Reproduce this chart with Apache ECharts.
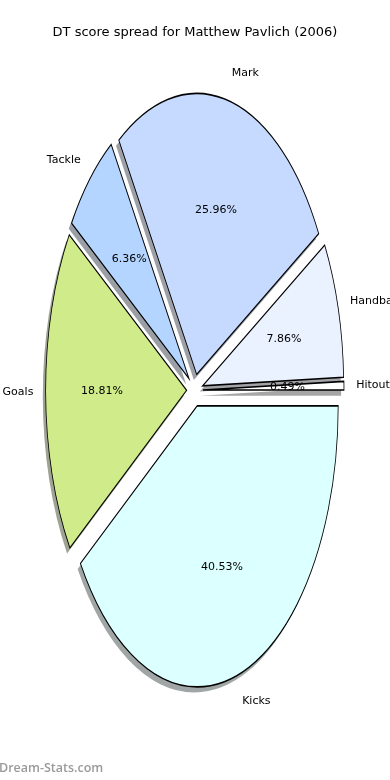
<!DOCTYPE html>
<html><head><meta charset="utf-8">
<script src="https://cdn.jsdelivr.net/npm/echarts@6/dist/echarts.min.js"></script>
<style>html,body{margin:0;padding:0;background:#fff}#c{width:390px;height:780px}</style>
</head><body><div id="c"></div>
<script>
const categories = ['Hitout', 'Handball', 'Mark', 'Tackle', 'Goals', 'Kicks'];
const values = [0.49, 7.86, 25.96, 6.36, 18.81, 40.53];
const pctLabels = ['0.49%', '7.86%', '25.96%', '6.36%', '18.81%', '40.53%'];
const colors = ['#FFFFFF', '#EAF1FF', '#C6DAFF', '#B4D5FF', '#D0EB8A', '#DCFFFF'];

const CX = 194.8, CY = 390.3, RX = 141, RY = 281;
const EXPLODE = 0.058, SHX = -0.02, SHY = -0.02;
const LABEL_DX = 1.087, LABEL_DY = 1.1, PCT_D = 0.6;
const FONT = '"DejaVu Sans", sans-serif';

const total = values.reduce((a, b) => a + b, 0);
const starts = [];
let acc = 0;
values.forEach(v => { starts.push(acc / total * 2 * Math.PI); acc += v; });

function shade(hex) {
  const n = parseInt(hex.slice(1), 16);
  const r = Math.round(((n >> 16) & 255) * 0.3), g = Math.round(((n >> 8) & 255) * 0.3), b = Math.round((n & 255) * 0.3);
  return 'rgba(' + r + ',' + g + ',' + b + ',0.5)';
}

function renderItem(params, api) {
  const i = params.dataIndex;
  const v = api.value(0);
  const a0 = starts[i], a1 = a0 + v / total * 2 * Math.PI, mid = (a0 + a1) / 2;
  const c = Math.cos(mid), s = Math.sin(mid);
  const ox = CX + EXPLODE * RX * c, oy = CY - EXPLODE * RY * s;
  const sector = (x, y, style, z2) => ({
    type: 'sector', x: x, y: y, scaleX: 1, scaleY: RY / RX, z2: z2,
    shape: { cx: 0, cy: 0, r: RX, r0: 0, startAngle: -a1, endAngle: -a0, clockwise: true },
    style: style
  });
  return {
    type: 'group',
    children: [
      sector(ox + SHX * RX, oy - SHY * RY, { fill: shade(colors[i]), stroke: null }, 0),
      sector(ox, oy, { fill: colors[i], stroke: '#000', lineWidth: 0.8, strokeNoScale: true }, 10),
      {
        type: 'text', z2: 20,
        x: ox + LABEL_DX * RX * c, y: oy - LABEL_DY * RY * s,
        style: { text: categories[i], fill: '#000', font: '11px ' + FONT, align: c > 0 ? 'left' : 'right', verticalAlign: 'middle' }
      },
      {
        type: 'text', z2: 20,
        x: ox + PCT_D * RX * c, y: oy - PCT_D * RY * s,
        style: { text: pctLabels[i], fill: '#000', font: '11px ' + FONT, align: 'center', verticalAlign: 'middle' }
      }
    ]
  };
}

const chart = echarts.init(document.getElementById('c'), null, { renderer: 'canvas' });
chart.setOption({
  animation: false,
  backgroundColor: '#fff',
  title: {
    text: 'DT score spread for Matthew Pavlich (2006)',
    left: 'center', top: 21,
    textStyle: { fontSize: 13, fontWeight: 'normal', color: '#000', fontFamily: FONT }
  },
  graphic: [{
    type: 'text', left: -1, top: 762,
    style: { text: 'Dream-Stats.com', fill: '#9a9a9a', font: '600 12.5px "Open Sans", sans-serif' }
  }],
  series: [{
    type: 'custom',
    coordinateSystem: 'none',
    renderItem: renderItem,
    data: values.map((v, i) => ({ value: v, name: categories[i] }))
  }]
});
</script>
</body></html>
